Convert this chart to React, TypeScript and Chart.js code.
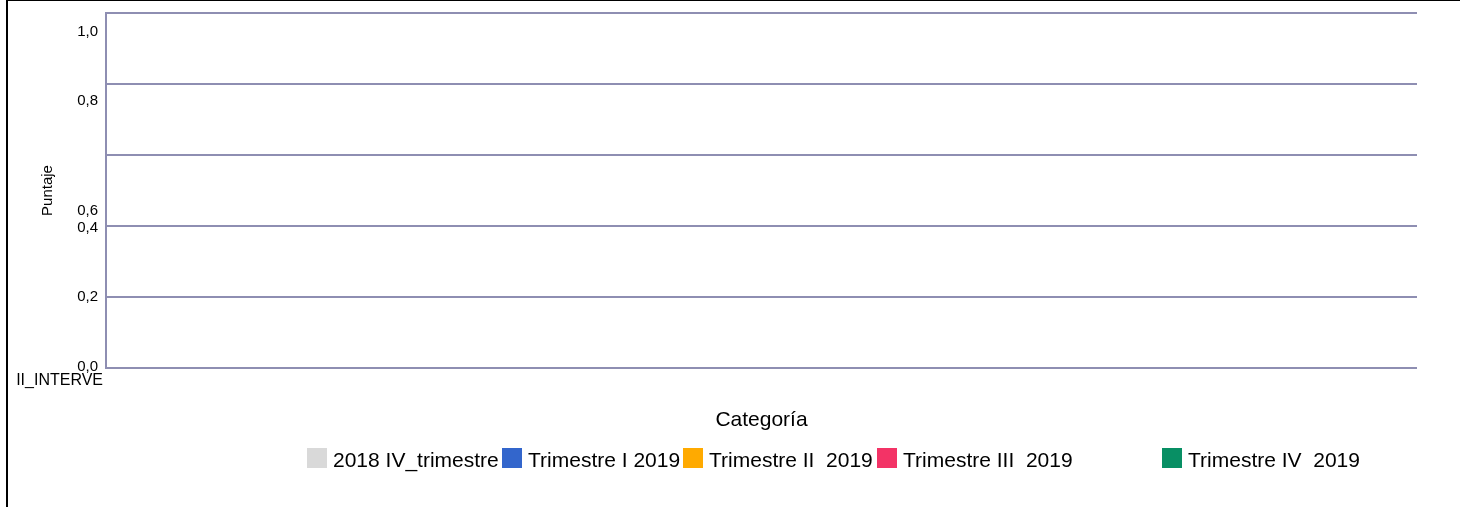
import React, { useEffect, useRef } from "react";
import { Chart, registerables } from "chart.js";

Chart.register(...registerables);

// ---- data ----
const categories: string[] = ["II_INTERVE"];
const seriesNames: string[] = [
  "2018 IV_trimestre",
  "Trimestre I 2019",
  "Trimestre II  2019",
  "Trimestre III  2019",
  "Trimestre IV  2019",
];
const series2018IV: number[] = [0];
const series2019I: number[] = [0];
const series2019II: number[] = [0];
const series2019III: number[] = [0];
const series2019IV: number[] = [0];
const seriesValues: number[][] = [series2018IV, series2019I, series2019II, series2019III, series2019IV];
const yTickValues: number[] = [0, 0.2, 0.4, 0.6, 0.8, 1.0];
const yTickLabels: string[] = ["0,0", "0,2", "0,4", "0,6", "0,8", "1,0"];
const xAxisTitle = "Categoría";
const yAxisTitle = "Puntaje";

// ---- styles ----
const seriesColors: string[] = ["#d9d9d9", "#3366cc", "#ffaa00", "#f33366", "#088f64"];
const FONT = '"Liberation Sans", Arial, Helvetica, sans-serif';
const GRID = "#8e8eb2";
const Y_LABEL_SHIFT: number[] = [-1, 0, 1.5, 55.5, 17, 19];
const LEGEND_LEFT: number[] = [299, 494, 675, 869, 1154]; // relative to canvas box
const LEGEND_TOP = 447;

const yLabelPlugin = {
  id: "yLabelPlugin",
  afterDraw(chart: any) {
    const y = chart.scales.y;
    const ctx = chart.ctx;
    ctx.save();
    ctx.font = `15px ${FONT}`;
    ctx.fillStyle = "#000";
    ctx.textAlign = "right";
    ctx.textBaseline = "middle";
    yTickValues.forEach((v, i) => {
      ctx.fillText(yTickLabels[i], chart.chartArea.left - 8, y.getPixelForValue(v) + Y_LABEL_SHIFT[i]);
    });
    ctx.restore();
  },
};

export default function App() {
  const ref = useRef<HTMLCanvasElement>(null);
  useEffect(() => {
    if (!ref.current) return;
    const chart = new Chart(ref.current, {
      type: "bar",
      data: {
        labels: categories,
        datasets: seriesNames.map((name, i) => ({
          label: name,
          data: seriesValues[i],
          backgroundColor: seriesColors[i],
          borderWidth: 0,
        })),
      },
      options: {
        responsive: false,
        animation: false,
        devicePixelRatio: 1,
        layout: { padding: { left: 0, right: 43, top: 12, bottom: 69 } },
        plugins: { legend: { display: false }, tooltip: { enabled: false } },
        scales: {
          x: {
            offset: false,
            grid: { display: false, drawTicks: false },
            border: { display: false },
            ticks: {
              align: "end",
              padding: 3,
              labelOffset: -3,
              maxRotation: 0,
              autoSkip: false,
              color: "#000",
              font: { family: FONT, size: 16 },
            },
            title: {
              display: true,
              text: xAxisTitle,
              color: "#000",
              font: { family: FONT, size: 21 },
              padding: { top: 0, bottom: 5 },
            },
            afterFit(s: any) {
              s.height = 70;
            },
          },
          y: {
            min: 0,
            max: 1,
            ticks: { display: false, stepSize: 0.2 },
            grid: { color: GRID, lineWidth: 2, drawTicks: false },
            border: { display: true, color: GRID, width: 2 },
            title: {
              display: true,
              text: yAxisTitle,
              color: "#000",
              font: { family: FONT, size: 15 },
              padding: { top: 31, bottom: 0 },
            },
            afterFit(s: any) {
              s.width = 98;
            },
          },
        },
      } as any,
      plugins: [yLabelPlugin],
    });
    return () => chart.destroy();
  }, []);

  return (
    <div
      style={{
        position: "absolute",
        left: 6,
        top: 0,
        width: 1454,
        height: 507,
        borderLeft: "2px solid #000",
        borderTop: "1px solid #000",
        boxSizing: "border-box",
        background: "#fff",
        overflow: "hidden",
      }}
    >
      <canvas
        ref={ref}
        width={1452}
        height={506}
        style={{ position: "absolute", left: 0, top: 0, display: "block", width: 1452, height: 506 }}
      />
      {seriesNames.map((name, i) => (
        <div
          key={name}
          style={{
            position: "absolute",
            left: LEGEND_LEFT[i],
            top: LEGEND_TOP,
            height: 20,
            display: "flex",
            alignItems: "center",
          }}
        >
          <span style={{ display: "inline-block", width: 20, height: 20, background: seriesColors[i] }} />
          <span
            style={{
              marginLeft: 6,
              fontFamily: FONT,
              fontSize: 21,
              lineHeight: "20px",
              whiteSpace: "pre",
              color: "#000",
              position: "relative",
              top: 2,
            }}
          >
            {name}
          </span>
        </div>
      ))}
    </div>
  );
}
